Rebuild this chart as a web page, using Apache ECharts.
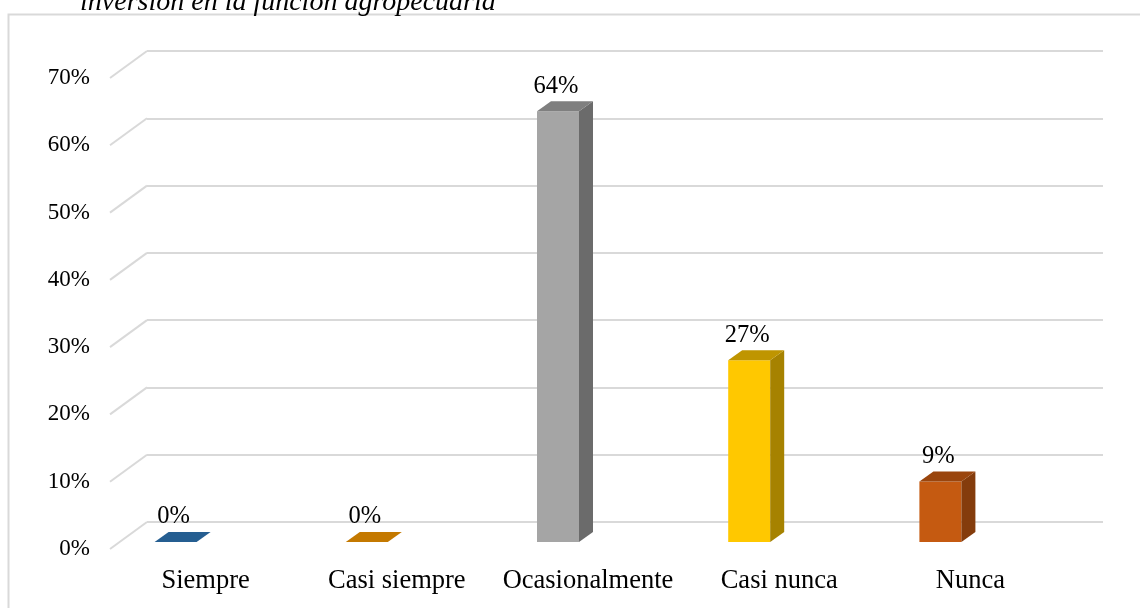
<!DOCTYPE html>
<html><head><meta charset="utf-8">
<script src="https://cdn.jsdelivr.net/npm/echarts@6/dist/echarts.min.js"></script>
<style>html,body{margin:0;padding:0;background:#fff}#c{width:1140px;height:608px}</style>
</head><body><div id="c"></div>
<script>
const categories = ['Siempre', 'Casi siempre', 'Ocasionalmente', 'Casi nunca', 'Nunca'];
const values = [0, 0, 64, 27, 9];
const ticks = [0, 10, 20, 30, 40, 50, 60, 70];
const titleText = 'inversión en la función agropecuaria';
const frontColors = ['#255e91', '#c47900', '#a5a5a5', '#ffc800', '#c55a11'];
const sideColors = ['#1c4a73', '#9a5f00', '#6b6b6b', '#a68200', '#843c0c'];
const topColors = ['#255e91', '#c47900', '#7f7f7f', '#bf9500', '#9a450d'];

const FONT = '"Liberation Serif", "Times New Roman", serif';
const DX = 37, DY = 27;        // perspective offset of the back wall
const BW = 42, BD = 14, BH = 10; // bar width, depth
const chart = echarts.init(document.getElementById('c'));
chart.setOption({
  animation: false,
  backgroundColor: '#fff',
  graphic: [
    { type: 'rect', shape: { x: 8.5, y: 14.5, width: 1300, height: 800 }, style: { fill: 'none', stroke: '#d9d9d9', lineWidth: 2 }, z: 0 },
    { type: 'text', left: 80, top: -11, style: { text: titleText, font: 'italic 28px ' + FONT, fill: '#000' } }
  ],
  grid: [
    { left: 147, right: 37, top: 51, bottom: 86 },
    { left: 110, right: 74, top: 78, bottom: 59 }
  ],
  xAxis: [
    { type: 'category', data: categories, gridIndex: 0, axisLine: { show: false }, axisTick: { show: false }, axisLabel: { show: false } },
    { type: 'category', data: categories, gridIndex: 1, axisLine: { show: false }, axisTick: { show: false },
      axisLabel: { interval: 0, color: '#000', fontFamily: FONT, fontSize: 26.5, margin: 19 } }
  ],
  yAxis: [
    { type: 'value', min: 0, max: 70, interval: 10, gridIndex: 0, axisLine: { show: false }, axisTick: { show: false }, axisLabel: { show: false },
      splitLine: { lineStyle: { color: '#d9d9d9', width: 2 } } },
    { type: 'value', min: 0, max: 70, interval: 10, gridIndex: 1, axisLine: { show: false }, axisTick: { show: false }, splitLine: { show: false },
      axisLabel: { color: '#000', fontFamily: FONT, fontSize: 23, margin: 20, formatter: '{value}%' } }
  ],
  series: [
    {
      type: 'custom', xAxisIndex: 0, yAxisIndex: 0, silent: true,
      data: ticks.map(t => [0, t]),
      renderItem: function (params, api) {
        const y = api.coord([0, api.value(1)])[1];
        const x0 = params.coordSys.x;
        return { type: 'line', shape: { x1: x0 - DX, y1: y + DY, x2: x0, y2: y }, style: { stroke: '#d9d9d9', lineWidth: 2 } };
      }
    },
    {
      type: 'custom', xAxisIndex: 0, yAxisIndex: 0, silent: true, z: 5,
      data: values.map((v, i) => [i, v]),
      renderItem: function (params, api) {
        const i = api.value(0), v = api.value(1);
        const base = api.coord([i, 0]);
        const top = api.coord([i, v]);
        const cx = base[0] - 67;
        const by = base[1] + 20, ty = top[1] + 20;
        const l = cx - BW / 2, r = cx + BW / 2;
        const children = [];
        if (by - ty > 0.5) {
          children.push({ type: 'rect', shape: { x: l, y: ty, width: BW, height: by - ty }, style: { fill: frontColors[i] } });
          children.push({ type: 'polygon', shape: { points: [[r, by], [r + BD, by - BH], [r + BD, ty - BH], [r, ty]] }, style: { fill: sideColors[i] } });
        }
        children.push({ type: 'polygon', shape: { points: [[l, ty], [l + BD, ty - BH], [r + BD, ty - BH], [r, ty]] }, style: { fill: topColors[i] } });
        children.push({ type: 'text', style: { text: Math.round(v) + '%', x: cx - 2, y: ty - 25, align: 'center', verticalAlign: 'middle', font: '24.5px ' + FONT, fill: '#000' } });
        return { type: 'group', children: children };
      }
    }
  ]
});
</script></body></html>
